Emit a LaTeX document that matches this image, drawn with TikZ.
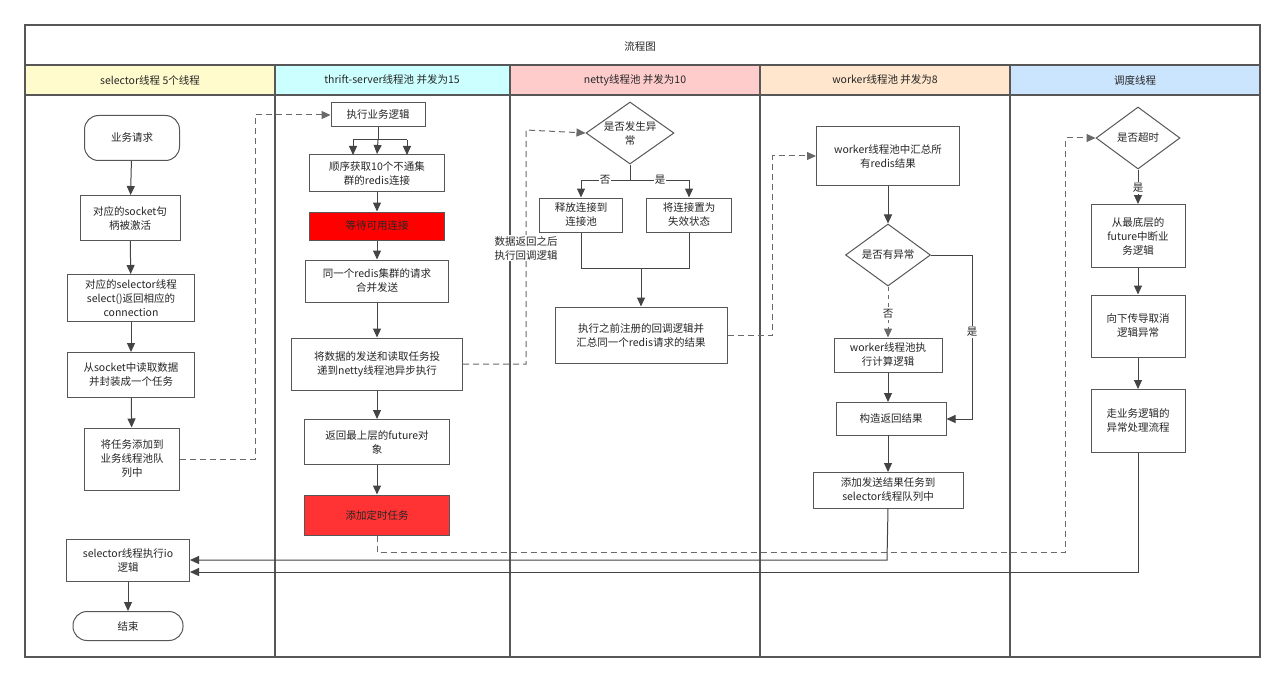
\documentclass[tikz,border=0pt]{standalone}
\usepackage{fontspec}
\setmainfont{Noto Sans CJK SC}
\usetikzlibrary{shapes.geometric,arrows.meta}
\definecolor{hy}{HTML}{FFFBCC}
\definecolor{hc}{HTML}{CCFFFF}
\definecolor{hp}{HTML}{FFCCCC}
\definecolor{ho}{HTML}{FFE6CC}
\definecolor{hb}{HTML}{CCE5FF}
\definecolor{ln}{HTML}{444444}
\definecolor{red2}{HTML}{FF3333}
\tikzset{
  every node/.style={font=\fontsize{10.5}{14}\selectfont, text=black!85},
  bx/.style={draw=ln!90, line width=1pt, align=center, inner sep=2pt},
  rbx/.style={bx, rounded corners=14pt},
  dia/.style={draw=ln!90, line width=1pt, diamond, aspect=1.4, align=center, inner sep=0pt},
  ar/.style={draw=ln, line width=1pt, -{Triangle[length=9pt,width=8pt]}},
  ln/.style={draw=ln, line width=1pt},
  da/.style={draw=ln!80, line width=1pt, dash pattern=on 6pt off 4pt, -{Triangle[length=9pt,width=8pt]}},
  lab/.style={fill=white, inner sep=1pt}
}
\begin{document}
\begin{tikzpicture}[x=1pt,y=-1pt]
\useasboundingbox (0,0) rectangle (1285,682);
\fill[white] (0,0) rectangle (1285,682);
% headers
\fill[hy] (25,65) rectangle (275,95);
\fill[hc] (275,65) rectangle (510,95);
\fill[hp] (510,65) rectangle (760,95);
\fill[ho] (760,65) rectangle (1010,95);
\fill[hb] (1010,65) rectangle (1260,95);
\draw[ln!90, line width=1.2pt] (25,25) rectangle (1260,657);
\draw[ln!90, line width=1.2pt] (25,65) -- (1260,65) (25,95) -- (1260,95);
\foreach \x in {275,510,760,1010} \draw[ln!90, line width=1.2pt] (\x,65) -- (\x,657);
\node (title) at (640,47) {流程图};
\node (h1) at (150,80) {selector线程 5个线程};
\node (h2) at (392,80) {thrift-server线程池 并发为15};
\node (h3) at (635,80) {netty线程池 并发为10};
\node (h4) at (885,80) {worker线程池 并发为8};
\node (h5) at (1135,80) {调度线程};
% col1
\node[rbx, minimum width=95pt, minimum height=45pt] (a1) at (132,138) {业务请求};
\node[bx, minimum width=100pt, minimum height=45pt] (a2) at (130,218) {对应的socket句\\柄被激活};
\node[bx, minimum width=127pt, minimum height=47pt] (a3) at (131,298) {对应的selector线程\\select()返回相应的\\connection};
\node[bx, minimum width=127pt, minimum height=45pt] (a4) at (131,375) {从socket中读取数据\\并封装成一个任务};
\node[bx, minimum width=95pt, minimum height=62pt] (a5) at (132,459) {将任务添加到\\业务线程池队\\列中};
\node[bx, minimum width=123pt, minimum height=42pt] (a6) at (128,560) {selector线程执行io\\逻辑};
\node[rbx, minimum width=110pt, minimum height=29pt] (a7) at (128,626) {结束};
\draw[ar] (a1) -- (a2);
\draw[ar] (a2) -- (a3);
\draw[ar] (a3) -- (a4);
\draw[ar] (a4) -- (a5);
\draw[ar] (a6) -- (a7);
% col2
\node[bx, minimum width=94pt, minimum height=24pt] (b1) at (378,115) {执行业务逻辑};
\node[bx, minimum width=135pt, minimum height=37pt] (b2) at (377,173) {顺序获取10个不通集\\群的redis连接};
\node[bx, fill=red, minimum width=135pt, minimum height=28pt] (b3) at (377,226) {等待可用连接};
\node[bx, minimum width=143pt, minimum height=42pt] (b4) at (377,281) {同一个redis集群的请求\\合并发送};
\node[bx, minimum width=171pt, minimum height=52pt] (b5) at (377,364) {将数据的发送和读取任务投\\递到netty线程池异步执行};
\node[bx, minimum width=145pt, minimum height=45pt] (b6) at (377,442) {返回最上层的future对\\象};
\node[bx, fill=red2, minimum width=145pt, minimum height=40pt] (b7) at (377,515) {添加定时任务};
\coordinate (bs) at (378,140);
\draw[ln] (b1.south) -- (bs) (353,140) -- (407,140);
\draw[ar] (353,140) -- (353,155);
\draw[ar] (bs) -- (b2.north);
\draw[ar] (407,140) -- (407,155);
\draw[ar] (b2) -- (b3);
\draw[ar] (b3) -- (b4);
\draw[ar] (b4) -- (b5);
\draw[ar] (b5) -- (b6);
\draw[ar] (b6) -- (b7);
\draw[da] (a5.east) -- (255,459) -- (255,115) -- (b1.west);
% col3
\node[dia, minimum width=88pt, minimum height=62pt] (c1) at (630,133) {是否发生异\\常};
\node[bx, minimum width=83pt, minimum height=34pt] (c2) at (581,215) {释放连接到\\连接池};
\node[bx, minimum width=85pt, minimum height=34pt] (c3) at (689,215) {将连接置为\\失效状态};
\node[bx, minimum width=172pt, minimum height=56pt] (c4) at (641,335) {执行之前注册的回调逻辑并\\汇总同一个redis请求的结果};
\draw[ln] (c1.south) -- (630,180);
\draw[ar] (630,180) -- (581,180) -- (c2.north);
\draw[ar] (630,180) -- (689,180) -- (c3.north);
\node[lab] (n1) at (605,180) {否};
\node[lab] (y1) at (660,180) {是};
\draw[ln] (c2.south) -- (581,268) -- (689,268) -- (c3.south);
\draw[ar] (641,268) -- (c4.north);
\draw[da] (b5.east) -- (526,364) -- (526,130) -- (c1.west);
\node[lab, align=center] (cl) at (526,248) {数据返回之后\\执行回调逻辑};
% col4
\node[bx, minimum width=143pt, minimum height=59pt] (d1) at (888,156) {worker线程池中汇总所\\有redis结果};
\node[dia, minimum width=85pt, minimum height=62pt] (d2) at (888,255) {是否有异常};
\node[bx, minimum width=108pt, minimum height=34pt] (d3) at (888,355) {worker线程池执\\行计算逻辑};
\node[bx, minimum width=110pt, minimum height=33pt] (d4) at (891,419) {构造返回结果};
\node[bx, minimum width=150pt, minimum height=36pt] (d5) at (888,490) {添加发送结果任务到\\selector线程队列中};
\draw[ar] (d1) -- (d2);
\draw[da, dash pattern=on 4pt off 4pt] (d2.south) -- (d3.north);
\node[lab] (n2) at (888,314) {否};
\draw[ar] (d2.east) -- (972,255) -- (972,419) -- (d4.east);
\node[lab] (y2) at (972,332) {是};
\draw[ar] (d3.south) -- (888,402);
\draw[ar] (888,435) -- (888,472);
\draw[da] (c4.east) -- (772,335) -- (772,156) -- (d1.west);
% col5
\node[dia, minimum width=84pt, minimum height=62pt] (e1) at (1138,138) {是否超时};
\node[bx, minimum width=94pt, minimum height=63pt] (e2) at (1138,236) {从最底层的\\future中断业\\务逻辑};
\node[bx, minimum width=94pt, minimum height=62pt] (e3) at (1138,326) {向下传导取消\\逻辑异常};
\node[bx, minimum width=94pt, minimum height=63pt] (e4) at (1138,421) {走业务逻辑的\\异常处理流程};
\draw[ar] (e1) -- (e2);
\node[lab] (y3) at (1138,188) {是};
\draw[ar] (e2) -- (e3);
\draw[ar] (e3) -- (e4);
\draw[da] (b7.south) -- (377,552) -- (1065,552) -- (1065,138) -- (e1.west);
% returns
\draw[ar] (d5.south) -- (887,560) -- (a6.east);
\draw[ar] (e4.south) -- (1138,572) -- (190,572);
\end{tikzpicture}
\end{document}
